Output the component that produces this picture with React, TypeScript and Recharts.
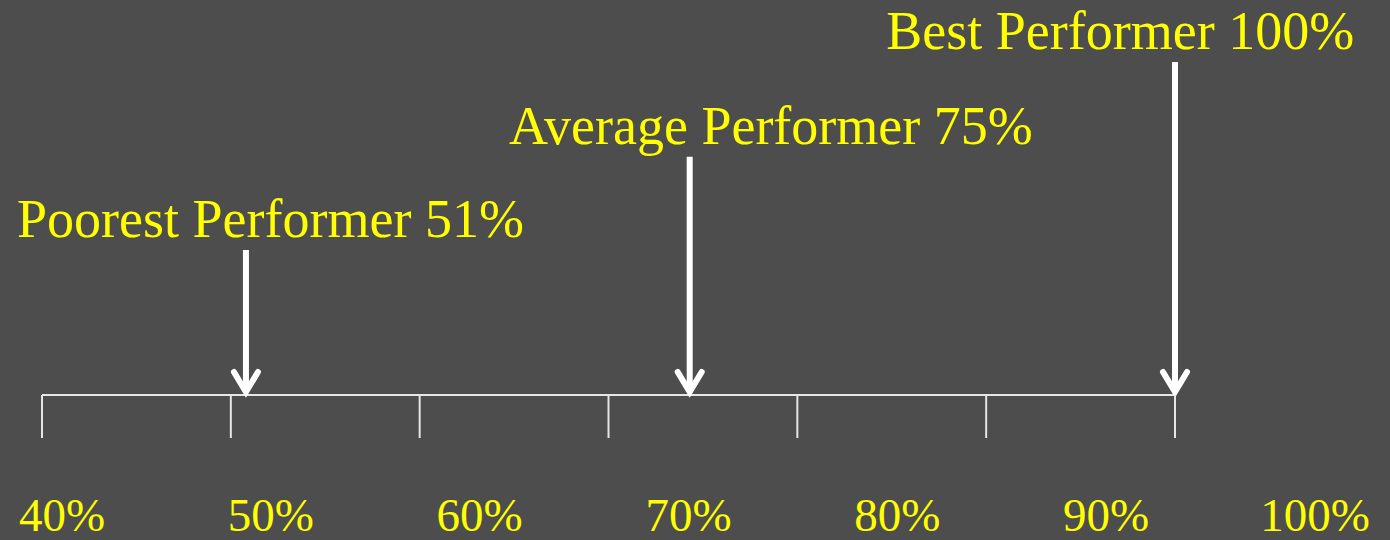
import { ComposedChart, XAxis, YAxis, ReferenceLine, ReferenceDot, Line } from "recharts"

// axis ticks (percent)
const tickValues = [40, 50, 60, 70, 80, 90, 100]
const tickLabels = ["40%", "50%", "60%", "70%", "80%", "90%", "100%"]

// performers
const performerNames = ["Poorest Performer 51%", "Average Performer 75%", "Best Performer 100%"]
const arrowAt = [50.8, 74.3, 100]
const arrowTop = [36.7, 60.3, 84.3]
const labelAt = [52.1, 78.6, 97.1]

const BG = "#4d4d4d"
const YELLOW = "#ffff00"
const FONT = "Liberation Serif, Times New Roman, serif"

const rows = arrowAt.map((x, i) => ({ x, top: arrowTop[i] }))

function ArrowShape(props: any) {
  const { x1, y1, x2, y2 } = props
  const tipY = y2 - 1
  return (
    <g>
      <line x1={x1} y1={y1} x2={x2} y2={tipY - 2} stroke="#ffffff" strokeWidth={6} />
      <polyline
        points={`${x2 - 12},${tipY - 22} ${x2},${tipY - 2} ${x2 + 12},${tipY - 22}`}
        fill="none"
        stroke="#ffffff"
        strokeWidth={6}
        strokeLinecap="round"
        strokeLinejoin="miter"
      />
    </g>
  )
}

function PercentTick(props: any) {
  const { x, y, payload, index } = props
  return (
    <text x={x} y={y} dy={93} textAnchor="middle" fill={YELLOW} fontSize={47} style={{ fontFamily: FONT }}>
      {tickLabels[index] ?? `${payload.value}%`}
    </text>
  )
}

function PerformerLabel(props: any) {
  const { viewBox, value } = props
  return (
    <text
      x={viewBox.x + viewBox.width / 2}
      y={viewBox.y - 12}
      textAnchor="middle"
      fill={YELLOW}
      fontSize={54}
      style={{ fontFamily: FONT }}
    >
      {value}
    </text>
  )
}

export default function App() {
  return (
    <div style={{ width: 1390, height: 540, background: BG, fontFamily: FONT }}>
      <style>{`body{margin:0;background:${BG};}`}</style>
      <ComposedChart
        width={1390}
        height={540}
        data={rows}
        margin={{ top: 0, right: 75, bottom: 0, left: 42 }}
        style={{ background: BG }}
      >
        <YAxis hide type="number" domain={[0, 100]} />
        <XAxis
          type="number"
          dataKey="x"
          domain={[40, 100]}
          ticks={tickValues}
          interval={0}
          padding={{ left: 0, right: 140 }}
          height={43}
          tickSize={43}
          axisLine={false}
          tickLine={{ stroke: "#e6e6e6", strokeWidth: 2 }}
          tick={() => <g />}
        />
        <XAxis
          xAxisId="lbl"
          type="number"
          dataKey="x"
          domain={[40, 100]}
          ticks={tickValues}
          interval={0}
          padding={{ left: 20, right: 0 }}
          height={102}
          tickSize={0}
          tickMargin={0}
          axisLine={false}
          tickLine={false}
          tick={<PercentTick />}
        />
        <Line dataKey="top" stroke="none" dot={false} activeDot={false} isAnimationActive={false} />
        <ReferenceLine
          segment={[{ x: 40, y: 0 }, { x: 100, y: 0 }]}
          stroke="#e6e6e6"
          strokeWidth={2}
          ifOverflow="visible"
        />
        {arrowAt.map((a, i) => (
          <ReferenceLine
            key={"arrow" + i}
            segment={[{ x: a, y: arrowTop[i] }, { x: a, y: 0 }]}
            ifOverflow="visible"
            shape={ArrowShape}
          />
        ))}
        {labelAt.map((l, i) => (
          <ReferenceDot
            key={"lbl" + i}
            x={l}
            y={arrowTop[i]}
            r={1}
            fill="none"
            stroke="none"
            ifOverflow="visible"
            label={<PerformerLabel value={performerNames[i]} />}
          />
        ))}
      </ComposedChart>
    </div>
  )
}
